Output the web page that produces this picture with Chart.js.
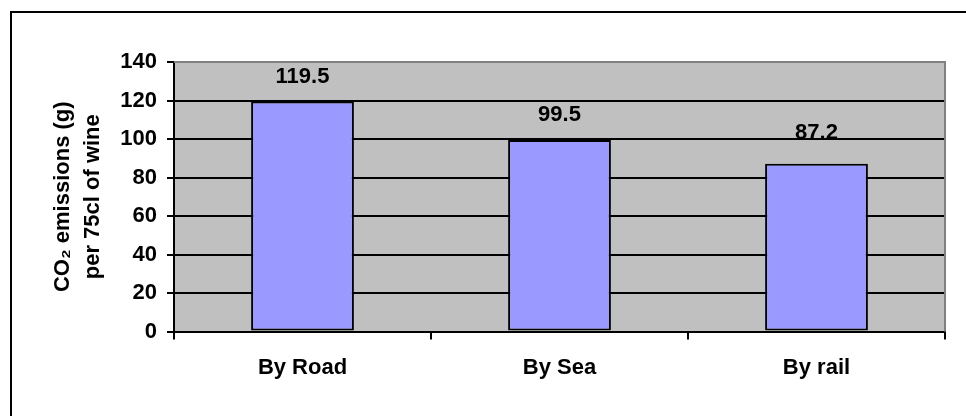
<!DOCTYPE html>
<html lang="en">
  <head>
    <meta charset="UTF-8" />
    <script src="https://cdn.jsdelivr.net/npm/chart.js@4.4.1/dist/chart.umd.min.js"></script>
    <title>CO2 emissions per bottle of wine</title>
    <style>
      html, body { margin: 0; padding: 0; background: #fff; }
      #wrap { width: 966px; height: 416px; }
    </style>
  </head>
  <body>
    <div id="wrap"><canvas id="myChart" width="966" height="416"></canvas></div>
    <script>
      const modes = ["By Road", "By Sea", "By rail"];
      const emissions = [119.5, 99.5, 87.2];
      const yTicks = [0, 20, 40, 60, 80, 100, 120, 140];
      const yTitle = ["CO\u2082 emissions (g)", "per 75cl of wine"];

      const FONT = "'Liberation Sans', Arial, sans-serif";

      // grey plot background, frame lines and the two page edges
      const frame = {
        id: "frame",
        beforeDraw(chart) {
          const { ctx, chartArea: a } = chart;
          ctx.save();
          ctx.fillStyle = "#c0c0c0";
          ctx.fillRect(a.left, a.top, a.right - a.left, a.bottom - a.top);
          ctx.strokeStyle = "#000";
          ctx.lineWidth = 2;
          ctx.beginPath();
          ctx.moveTo(966, 12);
          ctx.lineTo(11, 12);
          ctx.lineTo(11, 416);
          ctx.stroke();
          ctx.restore();
        },
        beforeDatasetsDraw(chart) {
          const { ctx, chartArea: a } = chart;
          ctx.save();
          ctx.strokeStyle = "#808080";
          ctx.lineWidth = 2;
          ctx.beginPath();
          ctx.moveTo(a.left, a.top);
          ctx.lineTo(a.right, a.top);
          ctx.lineTo(a.right, a.bottom);
          ctx.stroke();
          ctx.restore();
        }
      };

      // value printed over each bar
      const barValues = {
        id: "barValues",
        afterDatasetsDraw(chart, args, opts) {
          const { ctx } = chart;
          const meta = chart.getDatasetMeta(0);
          ctx.save();
          ctx.font = "bold 22px " + FONT;
          ctx.fillStyle = "#000";
          ctx.textAlign = "center";
          ctx.textBaseline = "middle";
          meta.data.forEach((bar, i) => {
            const v = chart.data.datasets[0].data[i];
            ctx.fillText(v.toFixed(1), bar.x, bar.y - opts.offsets[i]);
          });
          ctx.restore();
        }
      };

      const ctx = document.getElementById("myChart").getContext("2d");
      const myChart = new Chart(ctx, {
        type: "bar",
        data: {
          labels: modes,
          datasets: [
            {
              data: emissions,
              backgroundColor: "#9999ff",
              borderColor: "#000",
              borderWidth: 2,
              borderSkipped: false,
              categoryPercentage: 1,
              barPercentage: 0.4
            }
          ]
        },
        options: {
          responsive: false,
          animation: false,
          devicePixelRatio: 1,
          layout: { padding: { top: 62, right: 21, left: 0, bottom: 0 } },
          plugins: {
            legend: { display: false },
            tooltip: { enabled: false },
            barValues: { offsets: [25, 25, 31] }
          },
          scales: {
            x: {
              afterFit(scale) { scale.height = 84.5; },
              grid: {
                offset: true,
                drawOnChartArea: false,
                drawTicks: true,
                tickLength: 8,
                tickColor: "#000",
                lineWidth: 2
              },
              border: { color: "#000", width: 2 },
              ticks: {
                color: "#000",
                padding: 15,
                font: { family: FONT, size: 22, weight: "bold" }
              }
            },
            y: {
              min: 0,
              max: 140,
              afterFit(scale) { scale.width = 174; },
              afterBuildTicks(scale) {
                scale.ticks = yTicks.map((v) => ({ value: v }));
              },
              grid: {
                color: (c) => (c.tick && c.tick.value === 140 ? "rgba(0,0,0,0)" : "#000"),
                tickColor: "#000",
                lineWidth: 2,
                tickLength: 7
              },
              border: { color: "#000", width: 2 },
              ticks: {
                color: "#000",
                padding: 10,
                font: { family: FONT, size: 22, weight: "bold" }
              },
              title: {
                display: true,
                text: yTitle,
                color: "#000",
                padding: { top: 48, bottom: 0 },
                font: { family: FONT, size: 22, weight: "bold", lineHeight: 1.35 }
              }
            }
          }
        },
        plugins: [frame, barValues]
      });
    </script>
  </body>
</html>
